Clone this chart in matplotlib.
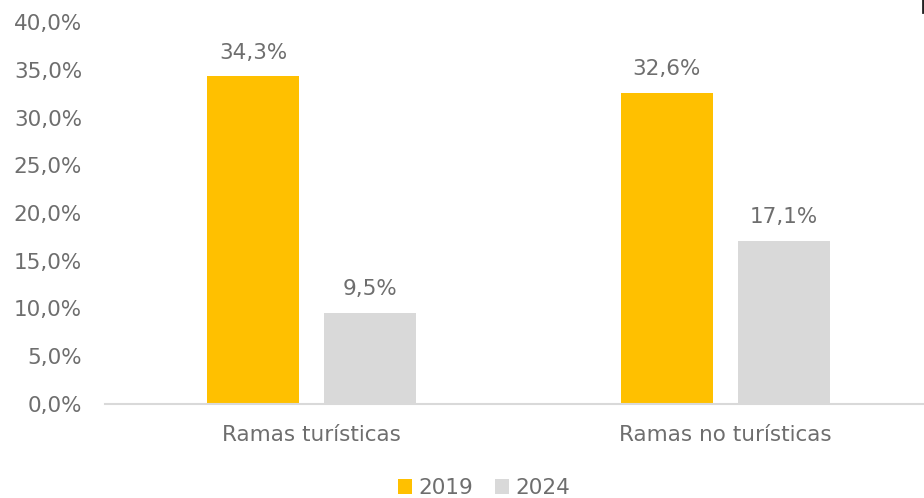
import matplotlib
matplotlib.use("Agg")
from matplotlib import pyplot as plt
from matplotlib.lines import Line2D
import matplotlib.ticker as mtick
import numpy as np

categories = ["Ramas turísticas", "Ramas no turísticas"]
series_names = ["2019", "2024"]
values_2019 = [34.3, 32.6]
values_2024 = [9.5, 17.1]
yticks = [0, 5, 10, 15, 20, 25, 30, 35, 40]

plt.rcParams['font.family'] = ['DejaVu Sans']
text_color = "#6e6e6e"
fs = 15.5

fig = plt.figure(figsize=(9.24, 4.98), dpi=100)
ax = fig.add_axes([105 / 924, 1 - 404 / 498, 827 / 924, 382 / 498])

x = np.arange(len(categories))
width = 0.223
off = 0.1417
b1 = ax.bar(x - off, values_2019, width, color="#FFC000", label=series_names[0])
b2 = ax.bar(x + off, values_2024, width, color="#D9D9D9", label=series_names[1])

def lab(v):
	return ("%.1f%%" % v).replace(".", ",")

for bars in (b1, b2):
	for r in bars:
		v = r.get_height()
		ax.annotate(lab(v), (r.get_x() + r.get_width() / 2, v), xytext=(0, 10),
			textcoords="offset points", ha="center", va="bottom",
			fontsize=fs, color=text_color)

ax.set_xlim(-0.5, 1.5)
ax.set_ylim(0, 40)
ax.set_yticks(yticks)
ax.yaxis.set_major_formatter(mtick.FuncFormatter(lambda v, p: lab(v)))
ax.set_xticks(x)
ax.set_xticklabels(categories)
ax.tick_params(axis="both", length=0, labelsize=fs, labelcolor=text_color)
ax.tick_params(axis="y", pad=16.5)
ax.tick_params(axis="x", pad=15)
for s in ["top", "right", "left"]:
	ax.spines[s].set_visible(False)
ax.spines["bottom"].set_color("#D9D9D9")
ax.spines["bottom"].set_linewidth(1.5)

leg = fig.legend(loc="center", bbox_to_anchor=(484 / 924, 1 - 488 / 498), ncol=2,
	frameon=False, fontsize=fs, handlelength=0.65, handleheight=0.65,
	handletextpad=0.3, columnspacing=1.0, labelcolor=text_color)

fig.add_artist(Line2D([922.5 / 924, 922.5 / 924], [1, 1 - 12 / 498], color="#222222",
	linewidth=2, transform=fig.transFigure))

fig.savefig("out.png", dpi=100)
